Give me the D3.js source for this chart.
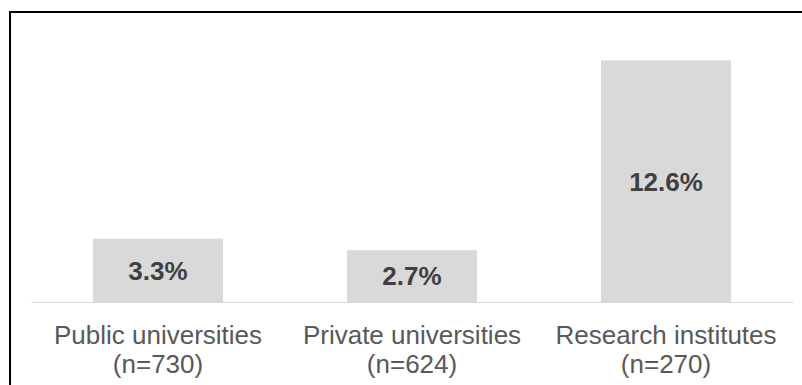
<!DOCTYPE html>
<html>
<head>
<meta charset="utf-8">
<script src="https://cdn.jsdelivr.net/npm/d3@7"></script>
<style>
    html, body { margin: 0; padding: 0; background: #fff; }
    svg { display: block; font-family: "Liberation Sans", Arial, sans-serif; }
</style>
</head>
<body>
<div id="chart"></div>
<script>
var categories = ["Public universities", "Private universities", "Research institutes"];
var sampleSizes = ["(n=730)", "(n=624)", "(n=270)"];
var shares = [3.3, 2.7, 12.6];

var CANVAS_WIDTH = 802,
    CANVAS_HEIGHT = 385;

var margin = { top: 33.5, right: 9, bottom: 83, left: 31 },
    width = CANVAS_WIDTH - margin.left - margin.right,
    height = CANVAS_HEIGHT - margin.top - margin.bottom;

var svg = d3.select("#chart")
    .append("svg")
    .attr("width", CANVAS_WIDTH)
    .attr("height", CANVAS_HEIGHT);

// frame around the chart (only left and top edges are in view)
svg.append("path")
    .attr("d", "M10," + CANVAS_HEIGHT + "V12H" + CANVAS_WIDTH)
    .attr("fill", "none")
    .attr("stroke", "#000")
    .attr("stroke-width", 2);

var g = svg.append("g")
    .attr("transform", "translate(" + margin.left + "," + margin.top + ")");

var x = d3.scaleBand()
    .domain(categories)
    .range([0, width])
    .paddingInner(0.488)
    .paddingOuter(0.244);

var y = d3.scaleLinear()
    .domain([0, 14])
    .range([height, 0]);

var data = categories.map(function(c, i) {
    return { category: c, n: sampleSizes[i], value: shares[i] };
});

g.selectAll(".bar")
    .data(data)
    .enter().append("rect")
    .attr("class", "bar")
    .attr("x", function(d) { return x(d.category); })
    .attr("y", function(d) { return y(d.value); })
    .attr("width", x.bandwidth())
    .attr("height", function(d) { return y(0) - y(d.value); })
    .attr("fill", "#d9d9d9");

// value labels, centred inside each bar
g.selectAll(".value")
    .data(data)
    .enter().append("text")
    .attr("class", "value")
    .attr("x", function(d) { return x(d.category) + x.bandwidth() / 2; })
    .attr("y", function(d) { return (y(d.value) + y(0)) / 2; })
    .attr("dy", "0.36em")
    .attr("text-anchor", "middle")
    .attr("font-size", 26)
    .attr("font-weight", "bold")
    .attr("fill", "#404040")
    .text(function(d) { return d.value.toFixed(1) + "%"; });

var xAxis = g.append("g")
    .attr("class", "axis axis--x")
    .attr("transform", "translate(0," + height + ")")
    .call(d3.axisBottom(x).tickSize(0).tickSizeOuter(0));

xAxis.select(".domain")
    .attr("stroke", "#d9d9d9")
    .attr("stroke-width", 1.2);

xAxis.selectAll(".tick text").remove();
xAxis.selectAll(".tick").each(function(c, i) {
    var t = d3.select(this).append("text")
        .attr("fill", "#595959")
        .attr("font-size", 26)
        .attr("text-anchor", "middle");
    t.append("tspan").attr("x", 0).attr("y", 41.5).text(c);
    t.append("tspan").attr("x", 0).attr("y", 70.5).text(sampleSizes[i]);
});

xAxis.attr("font-family", null).attr("font-size", null);
</script>
</body>
</html>
